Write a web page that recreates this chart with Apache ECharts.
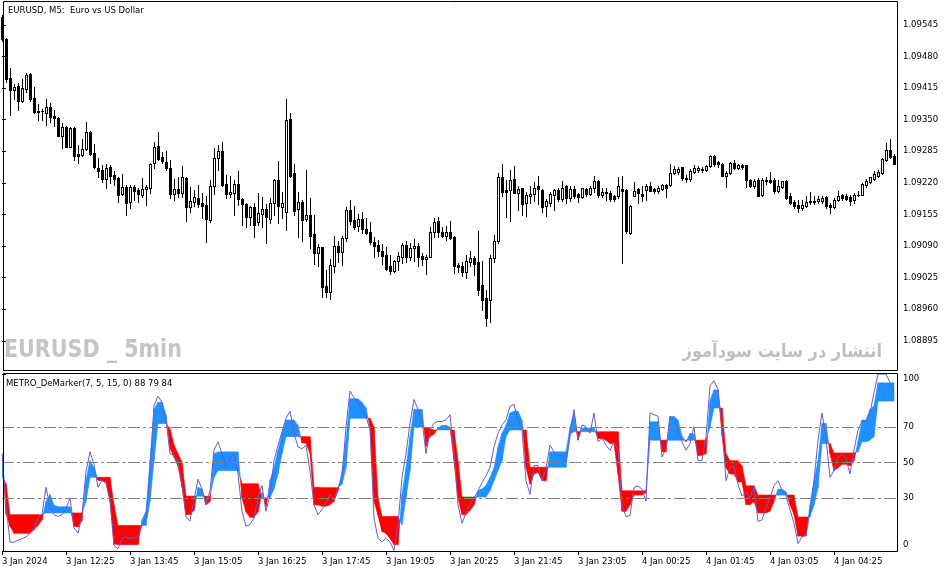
<!DOCTYPE html>
<html><head><meta charset="utf-8">
<script src="https://cdn.jsdelivr.net/npm/echarts@6/dist/echarts.min.js"></script>
<style>html,body{margin:0;padding:0;background:#fff}#c{width:951px;height:572px}</style>
</head><body><div id="c"></div>
<script>
const timeLabels = ['3 Jan 2024','3 Jan 12:25','3 Jan 13:45','3 Jan 15:05','3 Jan 16:25','3 Jan 17:45','3 Jan 19:05','3 Jan 20:25','3 Jan 21:45','3 Jan 23:05','4 Jan 00:25','4 Jan 01:45','4 Jan 03:05','4 Jan 04:25'];
const labelBars = [0,16,32,48,64,80,96,112,128,144,160,176,192,208];
const priceTicks = [1.08895,1.08960,1.09025,1.09090,1.09155,1.09220,1.09285,1.09350,1.09415,1.09480,1.09545];
const levelTicks = [0,30,50,70,100];
const levelLabelPos = [3.4,30,50,70,97.2];
const levels = [30,50,70];

const open = [
1.09561,1.09516,1.09436,1.09410,1.09420,1.09389,1.09413,1.09444,1.09395,1.09368,
1.09368,1.09364,1.09376,1.09358,1.09354,1.09317,1.09335,1.09294,1.09333,1.09280,
1.09278,1.09290,1.09325,1.09282,1.09251,1.09247,1.09228,1.09253,1.09236,1.09230,
1.09197,1.09212,1.09181,1.09212,1.09206,1.09195,1.09208,1.09210,1.09261,1.09296,
1.09273,1.09263,1.09251,1.09197,1.09208,1.09199,1.09230,1.09171,1.09181,1.09189,
1.09179,1.09175,1.09144,1.09214,1.09271,1.09286,1.09218,1.09197,1.09199,1.09218,
1.09187,1.09177,1.09150,1.09171,1.09140,1.09156,1.09167,1.09146,1.09179,1.09226,
1.09171,1.09160,1.09352,1.09241,1.09167,1.09181,1.09146,1.09154,1.09115,1.09076,
1.09088,1.09008,1.08996,1.09048,1.09091,1.09078,1.09107,1.09164,1.09144,1.09132,
1.09146,1.09125,1.09119,1.09099,1.09093,1.09080,1.09072,1.09048,1.09039,1.09060,
1.09068,1.09093,1.09068,1.09086,1.09091,1.09070,1.09064,1.09068,1.09119,1.09142,
1.09119,1.09111,1.09119,1.09109,1.09050,1.09048,1.09037,1.09058,1.09066,1.09058,
1.09010,1.08983,1.08979,1.09066,1.09100,1.09231,1.09206,1.09206,1.09228,1.09200,
1.09209,1.09178,1.09193,1.09197,1.09213,1.09206,1.09173,1.09178,1.09195,1.09206,
1.09187,1.09213,1.09189,1.09208,1.09197,1.09190,1.09208,1.09197,1.09209,1.09224,
1.09194,1.09202,1.09200,1.09192,1.09193,1.09208,1.09206,1.09117,1.09193,1.09208,
1.09197,1.09206,1.09213,1.09207,1.09204,1.09208,1.09215,1.09215,1.09240,1.09242,
1.09252,1.09230,1.09228,1.09243,1.09247,1.09249,1.09247,1.09254,1.09276,1.09262,
1.09259,1.09235,1.09240,1.09261,1.09250,1.09256,1.09256,1.09226,1.09213,1.09225,
1.09195,1.09226,1.09225,1.09226,1.09204,1.09211,1.09224,1.09193,1.09180,1.09175,
1.09169,1.09173,1.09180,1.09183,1.09182,1.09183,1.09190,1.09175,1.09170,1.09185,
1.09194,1.09193,1.09190,1.09184,1.09195,1.09195,1.09216,1.09221,1.09228,1.09235,
1.09240,1.09266,1.09288,1.09276];
const high = [
1.09566,1.09518,1.09457,1.09424,1.09426,1.09434,1.09446,1.09445,1.09417,1.09382,
1.09372,1.09393,1.09385,1.09370,1.09355,1.09343,1.09337,1.09335,1.09335,1.09298,
1.09310,1.09345,1.09327,1.09300,1.09271,1.09257,1.09259,1.09257,1.09245,1.09231,
1.09238,1.09216,1.09216,1.09216,1.09210,1.09230,1.09216,1.09261,1.09304,1.09325,
1.09284,1.09286,1.09267,1.09228,1.09232,1.09255,1.09231,1.09212,1.09206,1.09216,
1.09199,1.09193,1.09226,1.09292,1.09298,1.09304,1.09236,1.09234,1.09226,1.09245,
1.09189,1.09179,1.09173,1.09179,1.09199,1.09191,1.09177,1.09189,1.09228,1.09265,
1.09202,1.09393,1.09364,1.09259,1.09202,1.09185,1.09247,1.09189,1.09154,1.09095,
1.09089,1.09041,1.09064,1.09111,1.09101,1.09111,1.09171,1.09185,1.09173,1.09156,
1.09160,1.09148,1.09140,1.09109,1.09103,1.09095,1.09088,1.09072,1.09062,1.09078,
1.09097,1.09101,1.09097,1.09105,1.09097,1.09076,1.09072,1.09130,1.09148,1.09150,
1.09130,1.09132,1.09142,1.09111,1.09056,1.09058,1.09072,1.09080,1.09070,1.09121,
1.09060,1.09000,1.09072,1.09113,1.09241,1.09259,1.09226,1.09247,1.09255,1.09213,
1.09210,1.09202,1.09213,1.09221,1.09234,1.09207,1.09187,1.09202,1.09207,1.09209,
1.09224,1.09216,1.09213,1.09214,1.09200,1.09210,1.09209,1.09213,1.09234,1.09225,
1.09209,1.09209,1.09204,1.09194,1.09233,1.09234,1.09207,1.09174,1.09221,1.09210,
1.09213,1.09218,1.09221,1.09209,1.09213,1.09217,1.09218,1.09259,1.09254,1.09252,
1.09253,1.09237,1.09249,1.09257,1.09254,1.09252,1.09256,1.09278,1.09278,1.09265,
1.09261,1.09245,1.09263,1.09267,1.09259,1.09259,1.09257,1.09228,1.09228,1.09230,
1.09230,1.09231,1.09242,1.09230,1.09226,1.09224,1.09225,1.09200,1.09185,1.09185,
1.09185,1.09192,1.09201,1.09192,1.09192,1.09192,1.09192,1.09178,1.09189,1.09204,
1.09197,1.09197,1.09194,1.09199,1.09204,1.09219,1.09228,1.09233,1.09245,1.09247,
1.09271,1.09302,1.09310,1.09279];
const low = [
1.09512,1.09428,1.09360,1.09393,1.09370,1.09387,1.09407,1.09389,1.09364,1.09350,
1.09350,1.09339,1.09345,1.09337,1.09316,1.09292,1.09293,1.09293,1.09267,1.09261,
1.09276,1.09288,1.09278,1.09251,1.09232,1.09222,1.09210,1.09220,1.09216,1.09181,
1.09195,1.09154,1.09169,1.09185,1.09181,1.09191,1.09175,1.09199,1.09251,1.09267,
1.09261,1.09247,1.09189,1.09185,1.09191,1.09191,1.09142,1.09160,1.09173,1.09171,
1.09148,1.09099,1.09140,1.09197,1.09247,1.09214,1.09189,1.09191,1.09154,1.09175,
1.09134,1.09130,1.09134,1.09109,1.09134,1.09130,1.09097,1.09138,1.09154,1.09138,
1.09148,1.09123,1.09232,1.09154,1.09109,1.09101,1.09142,1.09086,1.09054,1.09048,
1.08986,1.08986,1.08981,1.09037,1.09058,1.09050,1.09101,1.09136,1.09125,1.09121,
1.09117,1.09115,1.09095,1.09068,1.09070,1.09054,1.09041,1.09033,1.09037,1.09041,
1.09056,1.09058,1.09062,1.09060,1.09048,1.09050,1.09033,1.09067,1.09109,1.09109,
1.09109,1.09103,1.09105,1.09035,1.09037,1.09029,1.09025,1.09048,1.09031,1.08990,
1.08959,1.08926,1.08934,1.09058,1.09096,1.09192,1.09149,1.09141,1.09199,1.09164,
1.09154,1.09152,1.09178,1.09183,1.09176,1.09159,1.09151,1.09173,1.09164,1.09182,
1.09182,1.09178,1.09182,1.09189,1.09180,1.09189,1.09193,1.09194,1.09202,1.09190,
1.09190,1.09185,1.09183,1.09183,1.09189,1.09056,1.09117,1.09115,1.09192,1.09178,
1.09182,1.09185,1.09204,1.09200,1.09200,1.09206,1.09190,1.09214,1.09238,1.09238,
1.09226,1.09221,1.09223,1.09240,1.09243,1.09243,1.09245,1.09252,1.09254,1.09252,
1.09234,1.09212,1.09238,1.09249,1.09249,1.09249,1.09212,1.09211,1.09209,1.09192,
1.09192,1.09217,1.09219,1.09200,1.09201,1.09209,1.09187,1.09176,1.09168,1.09161,
1.09164,1.09171,1.09177,1.09177,1.09178,1.09178,1.09168,1.09158,1.09168,1.09182,
1.09185,1.09185,1.09175,1.09178,1.09192,1.09194,1.09212,1.09219,1.09226,1.09233,
1.09238,1.09264,1.09271,1.09259];
const close = [
1.09516,1.09434,1.09411,1.09417,1.09389,1.09415,1.09442,1.09393,1.09366,1.09366,
1.09367,1.09376,1.09356,1.09354,1.09317,1.09335,1.09294,1.09333,1.09276,1.09276,
1.09290,1.09325,1.09280,1.09253,1.09245,1.09228,1.09251,1.09234,1.09228,1.09195,
1.09212,1.09179,1.09212,1.09204,1.09197,1.09208,1.09212,1.09259,1.09294,1.09269,
1.09265,1.09251,1.09197,1.09208,1.09199,1.09232,1.09171,1.09183,1.09191,1.09177,
1.09173,1.09146,1.09214,1.09271,1.09286,1.09216,1.09197,1.09202,1.09218,1.09187,
1.09177,1.09150,1.09171,1.09134,1.09158,1.09167,1.09150,1.09179,1.09226,1.09173,
1.09179,1.09350,1.09234,1.09162,1.09181,1.09144,1.09154,1.09111,1.09076,1.09088,
1.09006,1.08996,1.09050,1.09091,1.09078,1.09107,1.09164,1.09142,1.09130,1.09146,
1.09125,1.09117,1.09099,1.09091,1.09080,1.09070,1.09043,1.09039,1.09060,1.09070,
1.09093,1.09068,1.09086,1.09091,1.09068,1.09064,1.09068,1.09119,1.09140,1.09119,
1.09111,1.09119,1.09107,1.09048,1.09046,1.09037,1.09060,1.09066,1.09054,1.09000,
1.08979,1.08942,1.09066,1.09101,1.09231,1.09202,1.09202,1.09226,1.09200,1.09208,
1.09177,1.09195,1.09197,1.09209,1.09207,1.09171,1.09182,1.09197,1.09206,1.09187,
1.09209,1.09189,1.09207,1.09193,1.09190,1.09209,1.09197,1.09210,1.09223,1.09195,
1.09201,1.09199,1.09187,1.09187,1.09214,1.09204,1.09121,1.09173,1.09204,1.09199,
1.09192,1.09213,1.09204,1.09204,1.09210,1.09215,1.09210,1.09241,1.09249,1.09249,
1.09230,1.09228,1.09245,1.09250,1.09250,1.09247,1.09254,1.09276,1.09259,1.09259,
1.09235,1.09241,1.09261,1.09250,1.09256,1.09252,1.09225,1.09213,1.09224,1.09193,
1.09226,1.09223,1.09221,1.09204,1.09214,1.09223,1.09189,1.09178,1.09173,1.09169,
1.09175,1.09180,1.09183,1.09180,1.09187,1.09189,1.09173,1.09170,1.09185,1.09193,
1.09189,1.09187,1.09182,1.09195,1.09196,1.09217,1.09223,1.09231,1.09238,1.09243,
1.09269,1.09288,1.09273,1.09259];

const stepLine = [
42,38,20.5,20.5,20.5,20.5,20.5,20.5,20.5,20.5,
20.5,21.5,21.5,21.5,21.5,21.5,21.5,21.5,21.5,21.5,
21.5,28,41.6,41.6,41.6,41.6,41.6,41.6,26,14.4,
14.4,14.4,14.4,14.4,14.4,14.4,14.4,28,51,72,
72,72,69,60,55,50,31,31,31,31,
31,31,31,41.6,45.4,45.4,45.4,45.4,45.4,45.4,
38,38,38,38,38,30,30,30,35,43.5,
55,64.6,64.6,64.6,64.6,64.6,64.6,64.6,36,36,
35.8,35.8,35.8,35.8,35.8,37.7,47,75,75,75,
75,75,75,70,30,19.5,19.5,19.5,19.5,19.5,
14.8,30,45.4,70,70,70,70,69,68.4,68.4,
68.4,68.4,68.4,68.4,51,30.5,30.5,30.5,30.5,30.5,
30.5,30.5,34,39.7,45.4,51,64.6,68.4,68.4,68.4,
68.4,68.4,47.3,47.3,47.3,47.3,47.3,47.3,47.3,47.3,
47.3,47.3,66,67.4,67.4,67.4,67.4,67.4,67.4,67.4,
67.4,67.4,67.4,67.4,67.4,34,34,34,34,34,
34,34,62.6,62.6,62.6,62.6,62.6,62.6,62.6,62.6,
62.6,62.6,62.6,62.6,62.6,62.6,62.6,70,80.8,80.8,
80.8,55,51,51,51,48,36.8,36.8,36.8,31.6,
31.6,31.6,31.6,31.6,31.6,31.6,31.6,31.6,31.6,19.2,
19.2,19.2,19.2,26,35.8,60.7,60.7,60.7,55.4,55.4,
55.4,55.4,55.4,55.4,56,61.7,61.7,62.6,64.6,84.7,
84.7,84.7,84.7,84.7];
const fastLine = [
55,21,14,10,10,10,10,10,12,14.5,
17.5,28,32,26,25,25,25,25,14,13.5,
17,40,51,47,40,39.7,39,28,4,3.6,
3.6,3.6,3.6,3.6,3.6,17.6,22.4,51,80,84,
84,77,58,53,48,36,20.5,20.5,23,36,
35,26,28,55,56,56,56,56,56,56,
30,22,19,19,22,33,25,40,47,57,
66.5,74,74,74,71,61,61,55,26,26,
25.3,25.3,26.2,28,34,45,62.6,86,86,86,
84,81,70,28,20,11,10,7,3.6,3.6,
32,47,64.6,80,80,80,59,64.6,66,69.5,
71,71,70,51,30,20.5,20.5,23,26,34,
35,37,41.6,47,58.8,66.5,71,78,79,79,
74,47,37.7,43.5,44.5,39.7,39.7,56,56,56,
56,56,70,78,62.6,69.4,69.4,69.4,69.4,63.6,
63.6,62.6,60.7,60.7,43.5,22.4,22.4,26,31.6,31.6,
31.6,33,73,73,73,56,56,76,76,74,
65,61.7,66.5,66,54,54,55,85,91,91,
65,47,43.5,43.5,39,39,26.2,26.2,28,21.5,
21.5,21.5,22.4,28,34.9,34.9,33.5,26,20.5,8.4,
8.4,8.4,26,39.7,51,72,72,55,45.4,47,
49,49,48,51,61.7,74,74,80,82,95,
95,95,95,95];
const demarker = [
55,26,5,5,6,7,8,10,13,19,
20.5,36,25,20.5,19.5,20.5,24,30,13,10,
20.5,45,56,49,36,40,38,29,3,1.3,
7,8,7,7.5,8,14,19,45,82,87.5,
84,74,55,54,50,38,19,17,29,40.6,
35,26,34,57,61.7,55,48,52,55,43.5,
22.4,14,15,18.6,30,37,22.4,32,51,59.8,
67.4,75,79,66.5,58.8,57.8,59.8,45,26,20.5,
23.4,27.2,32,28.2,35.8,41.6,70.3,90.4,86.6,83.7,
79.9,76.1,68.4,18.6,7.1,5.2,7.1,5.2,0.4,14.8,
41.6,55,72.2,85.6,79.9,74.1,55,68.4,72.2,73.2,
73.2,74.1,77,55,26.2,15.7,21.5,26.2,30.1,33.9,
38.7,42.5,47.3,58.8,66.5,71.3,74.1,81.8,82.8,74.1,
68.4,39.7,32,48.3,48.3,39.7,46.4,59.8,56,54,
54,50.2,64.6,79.9,62.6,71.3,70.3,66.5,78,61.7,
63.6,59.8,56.9,61.7,56.9,26.2,19.5,20,35.8,36.8,
34.9,28.2,78,77,76.1,53.1,57.8,76.1,74.1,68.4,
61.7,56.9,60.7,70.3,51.1,51.1,64.6,93.3,96.2,91.4,
70.3,39.7,47.3,48.3,37.7,31,33,30.1,36.8,16.7,
17.6,24.3,30.1,36.8,39.7,34.5,31,23.4,15.7,4.2,
8,9,22.4,39.7,62.6,78,63.6,41.6,45.4,53.1,
55,52.1,43.5,56.9,68.4,73.2,73.2,78,89.5,100,
100,100,95.2,88.5];

const BLUE = '#1e90ff', RED = '#ff0000', PURPLE = '#6a5acd';
const FONT = 'DejaVu Sans';

const candleData = open.map((o, i) => [i, o, high[i], low[i], close[i]]);
const bandData = stepLine.map((s, i) => [i, s, fastLine[i]]);
const demData = demarker.map((v, i) => [i, v]);

function renderCandle(params, api) {
  const i = api.value(0), o = api.value(1), h = api.value(2), l = api.value(3), c = api.value(4);
  const pO = api.coord([i, o]);
  const px = Math.round(pO[0]);
  const yO = Math.round(pO[1]);
  const yC = Math.round(api.coord([i, c])[1]);
  const yH = Math.round(api.coord([i, h])[1]);
  const yL = Math.round(api.coord([i, l])[1]);
  const top = Math.min(yO, yC), bot = Math.max(yO, yC);
  const kids = [
    {type: 'rect', shape: {x: px, y: yH, width: 1, height: Math.max(1, yL - yH + 1)}, style: {fill: '#000'}},
    {type: 'rect', shape: {x: px - 1, y: top, width: 3, height: bot - top + 1}, style: {fill: '#000'}}
  ];
  if (c > o && bot - top >= 2) {
    kids.push({type: 'rect', shape: {x: px, y: top + 1, width: 1, height: bot - top - 1}, style: {fill: '#fff'}});
  }
  return {type: 'group', children: kids};
}

function renderBand(params, api) {
  const i = api.value(0);
  if (i >= stepLine.length - 1) return {type: 'group', children: []};
  const s0 = stepLine[i], f0 = fastLine[i], s1 = stepLine[i + 1], f1 = fastLine[i + 1];
  const P = (x, v) => api.coord([x, v]);
  const d0 = f0 - s0, d1 = f1 - s1;
  const poly = (pts, col) => ({type: 'polygon', shape: {points: pts}, style: {fill: col, stroke: col, lineWidth: 0.6}});
  const kids = [];
  if (d0 * d1 >= 0) {
    kids.push(poly([P(i, s0), P(i, f0), P(i + 1, f1), P(i + 1, s1)], (d0 + d1) >= 0 ? BLUE : RED));
  } else {
    const t = d0 / (d0 - d1);
    const m = P(i + t, s0 + (s1 - s0) * t);
    kids.push(poly([P(i, s0), P(i, f0), m], d0 > 0 ? BLUE : RED));
    kids.push(poly([m, P(i + 1, f1), P(i + 1, s1)], d1 > 0 ? BLUE : RED));
  }
  return {type: 'group', children: kids};
}

const chart = echarts.init(document.getElementById('c'), null, {renderer: 'canvas'});
const axisTextStyle = {color: '#000', fontFamily: FONT, fontSize: 8.5};
chart.setOption({
  animation: false,
  backgroundColor: '#fff',
  grid: [
    {left: 2, top: 1, width: 895, height: 370, outerBoundsMode: 'none'},
    {left: 2, top: 374, width: 895, height: 177, outerBoundsMode: 'none'}
  ],
  xAxis: [
    {type: 'value', gridIndex: 0, min: 0, max: 223.75, show: false},
    {type: 'value', gridIndex: 1, min: 0, max: 223.75,
      axisLine: {show: false}, splitLine: {show: false},
      axisTick: {show: true, length: 4, customValues: labelBars, lineStyle: {color: '#000'}},
      axisLabel: Object.assign({customValues: labelBars, align: 'left', margin: 6,
        formatter: v => timeLabels[labelBars.indexOf(v)] || ''}, axisTextStyle)}
  ],
  yAxis: [
    {type: 'value', gridIndex: 0, position: 'right', min: 1.08833, max: 1.09594,
      axisLine: {show: false}, splitLine: {show: false},
      axisTick: {show: true, length: 4, customValues: priceTicks, lineStyle: {color: '#000'}},
      axisLabel: Object.assign({customValues: priceTicks, margin: 6, formatter: v => v.toFixed(5)}, axisTextStyle)},
    {type: 'value', gridIndex: 1, position: 'right', min: 0, max: 100,
      axisLine: {show: false}, splitLine: {show: false},
      axisTick: {show: true, length: 4, customValues: levelTicks, lineStyle: {color: '#000'}},
      axisLabel: Object.assign({customValues: levelLabelPos, margin: 6,
        formatter: v => v < 10 ? '0' : (v > 90 ? '100' : String(v))}, axisTextStyle)}
  ],
  series: [
    {type: 'custom', name: 'EURUSD', xAxisIndex: 0, yAxisIndex: 0, data: candleData,
      encode: {x: 0, y: [1, 2, 3, 4]}, renderItem: renderCandle, silent: true, z: 2},
    {type: 'custom', name: 'band', xAxisIndex: 1, yAxisIndex: 1, data: bandData,
      encode: {x: 0, y: [1, 2]}, renderItem: renderBand, silent: true, clip: true, z: 2},
    {type: 'line', name: 'DeMarker', xAxisIndex: 1, yAxisIndex: 1, data: demData,
      symbol: 'none', silent: true, z: 3,
      lineStyle: {color: PURPLE, width: 1},
      markLine: {silent: true, symbol: ['none', 'none'], label: {show: false},
        lineStyle: {color: '#808080', width: 1, type: [12, 3, 3, 3]},
        emphasis: {disabled: true},
        data: levels.map(v => ({yAxis: v}))}}
  ],
  graphic: [
    {type: 'rect', z: 100, silent: true, shape: {x: 3.5, y: 1.5, width: 894, height: 369},
      style: {fill: 'none', stroke: '#000', lineWidth: 1}},
    {type: 'rect', z: 100, silent: true, shape: {x: 3.5, y: 373.5, width: 894, height: 178},
      style: {fill: 'none', stroke: '#000', lineWidth: 1}},
    {type: 'text', z: 100, silent: true, x: 8, y: 10.5,
      style: {text: 'EURUSD, M5:  Euro vs US Dollar', font: '8.5px "DejaVu Sans"', fill: '#000', align: 'left', verticalAlign: 'middle'}},
    {type: 'text', z: 100, silent: true, x: 6, y: 383.5,
      style: {text: 'METRO_DeMarker(7, 5, 15, 0) 88 79 84', font: '8.5px "DejaVu Sans"', fill: '#000', align: 'left', verticalAlign: 'middle'}},
    {type: 'text', z: 1, silent: true, x: 4, y: 350, scaleX: 0.86, scaleY: 1.05,
      style: {text: 'EURUSD _ 5min', font: 'bold 24px "DejaVu Sans"', fill: '#c4c4c4', align: 'left', verticalAlign: 'middle'}},
    {type: 'text', z: 1, silent: true, x: 882, y: 352, scaleX: 0.9,
      style: {text: 'انتشار در سایت سودآموز', font: 'bold 18px "DejaVu Sans"', fill: '#bfbfbf', align: 'right', verticalAlign: 'middle'}}
  ]
});
</script></body></html>
